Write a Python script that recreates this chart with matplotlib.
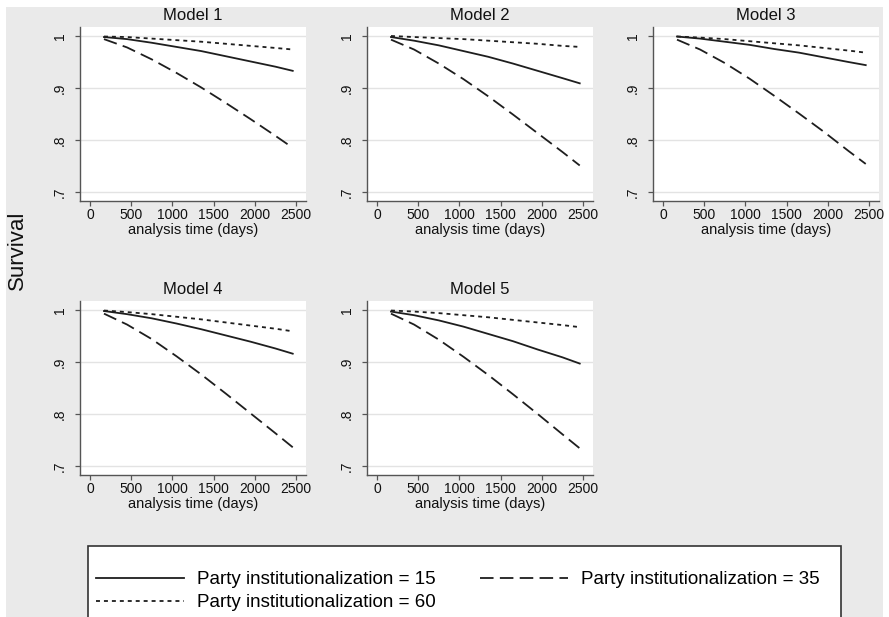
import matplotlib
matplotlib.use('Agg')
import matplotlib.pyplot as plt
from matplotlib.patches import Rectangle
from matplotlib.lines import Line2D

plt.rcParams['font.family'] = ['Liberation Sans', 'DejaVu Sans']

# analysis time (days) at which the curves were read
days = [170, 450, 750, 1050, 1350, 1650, 1950, 2250, 2460]

models = ['Model 1', 'Model 2', 'Model 3', 'Model 4', 'Model 5']

# survival for party institutionalization = 15 / 35 / 60, one list per model
surv_15 = [
    [0.998, 0.994, 0.987, 0.979, 0.971, 0.961, 0.951, 0.941, 0.933],
    [0.998, 0.991, 0.982, 0.971, 0.960, 0.947, 0.933, 0.919, 0.909],
    [0.999, 0.995, 0.989, 0.983, 0.975, 0.968, 0.959, 0.950, 0.944],
    [0.998, 0.992, 0.984, 0.974, 0.963, 0.951, 0.939, 0.926, 0.916],
    [0.997, 0.990, 0.980, 0.968, 0.954, 0.940, 0.924, 0.909, 0.897],
]
surv_35 = [
    [0.994, 0.978, 0.955, 0.929, 0.901, 0.871, 0.840, 0.808, 0.785],
    [0.993, 0.974, 0.947, 0.917, 0.884, 0.849, 0.813, 0.777, 0.751],
    [0.993, 0.974, 0.948, 0.918, 0.885, 0.851, 0.816, 0.779, 0.754],
    [0.993, 0.972, 0.944, 0.911, 0.876, 0.839, 0.801, 0.763, 0.736],
    [0.993, 0.972, 0.943, 0.910, 0.875, 0.838, 0.800, 0.761, 0.734],
]
surv_60 = [
    [0.999, 0.998, 0.995, 0.992, 0.989, 0.985, 0.981, 0.977, 0.974],
    [1.000, 0.998, 0.996, 0.994, 0.991, 0.988, 0.985, 0.981, 0.979],
    [0.999, 0.997, 0.994, 0.990, 0.986, 0.982, 0.977, 0.972, 0.968],
    [0.999, 0.996, 0.992, 0.987, 0.982, 0.976, 0.970, 0.964, 0.959],
    [0.999, 0.997, 0.994, 0.990, 0.986, 0.981, 0.976, 0.971, 0.967],
]

x_ticks = [0, 500, 1000, 1500, 2000, 2500]
y_ticks = [0.7, 0.8, 0.9, 1.0]
y_tick_labels = ['.7', '.8', '.9', '1']

labels = ['Party institutionalization = 15',
          'Party institutionalization = 35',
          'Party institutionalization = 60']

W, H = 889, 617
bg = '#eaeaea'
axcol = '#555555'
linecol = '#1e1e1e'

fig = plt.figure(figsize=(W / 100, H / 100), dpi=100, facecolor='white')

# gray outer region like Stata's graph region
fig.add_artist(Rectangle((6 / W, 0), (883 - 6) / W, 1 - 7 / H,
                         transform=fig.transFigure, facecolor=bg,
                         edgecolor='none', zorder=-10))

col_left = [80, 367, 653]
row_top = [27, 301]
ax_w, ax_h = 226, 174

styles = [
    dict(linestyle='-'),
    dict(linestyle=(0, (7.5, 3.5))),
    dict(linestyle=(0, (2.2, 2.2))),
]

for k, name in enumerate(models):
    r, c = divmod(k, 3)
    left = col_left[c] / W
    bottom = 1 - (row_top[r] + ax_h) / H
    ax = fig.add_axes([left, bottom, ax_w / W, ax_h / H])
    ax.set_facecolor('white')

    for y in y_ticks:
        ax.axhline(y, color='#e3e3e3', lw=1.0, zorder=0)

    ax.plot(days, surv_15[k], color=linecol, lw=1.3, **styles[0])
    ax.plot(days, surv_35[k], color=linecol, lw=1.3, **styles[1])
    ax.plot(days, surv_60[k], color=linecol, lw=1.3, **styles[2])

    ax.set_xlim(-121, 2621)
    ax.set_ylim(0.6827, 1.0173)
    ax.set_xticks(x_ticks)
    ax.set_yticks(y_ticks)
    ax.set_yticklabels(y_tick_labels, rotation=90, va='center')

    for s in ['top', 'right']:
        ax.spines[s].set_visible(False)
    for s in ['left', 'bottom']:
        ax.spines[s].set_color(axcol)
        ax.spines[s].set_linewidth(1.0)
    ax.tick_params(axis='both', direction='out', length=3.5, width=0.9,
                   color=axcol, labelsize=10, labelcolor='#111111')
    ax.tick_params(axis='y', pad=6)
    ax.tick_params(axis='x', pad=1.5)

    ax.set_xlabel('analysis time (days)', fontsize=10.5, labelpad=0.5,
                  color='#111111')
    ax.set_title(name, fontsize=12, pad=5, color='#111111')

fig.text(17 / W, 1 - 250 / H, 'Survival', rotation=90, fontsize=16,
         ha='center', va='center', color='#111111')

# legend frame (cut by the bottom edge as in the source)
lx0, ly0, lx1 = 88, 546, 841
fig.add_artist(Rectangle((lx0 / W, -0.05), (lx1 - lx0) / W,
                         1 - ly0 / H + 0.05, transform=fig.transFigure,
                         facecolor='white', edgecolor='#333333', lw=1.2,
                         zorder=-5))

handles = [Line2D([], [], color=linecol, lw=1.3, **styles[0]),
           Line2D([], [], color=linecol, lw=1.3, **styles[2]),
           Line2D([], [], color=linecol, lw=1.3, **styles[1])]
fig.legend(handles, [labels[0], labels[2], labels[1]], ncol=2,
           loc='upper left', bbox_to_anchor=(96 / W, 1 - 571 / H),
           frameon=False, fontsize=13.5, handlelength=4.7,
           handletextpad=0.7, columnspacing=2.35, labelspacing=0.32,
           borderpad=0, borderaxespad=0)

fig.savefig('out.png', dpi=100, facecolor=fig.get_facecolor())
